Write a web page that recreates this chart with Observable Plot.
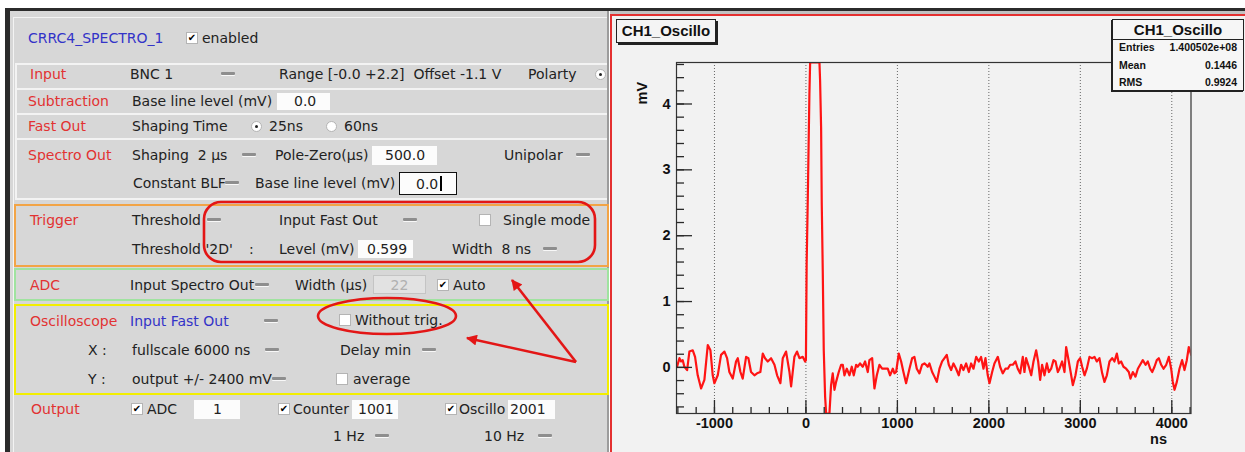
<!DOCTYPE html>
<html><head><meta charset="utf-8">
<script src="https://cdn.jsdelivr.net/npm/d3@7"></script>
<script src="https://cdn.jsdelivr.net/npm/@observablehq/plot@0.6"></script>
<style>
html,body{margin:0;padding:0;}
body{width:1245px;height:452px;overflow:hidden;position:relative;background:#fff;font-family:"DejaVu Sans",sans-serif;}
.a{position:absolute;}
.t{position:absolute;font-size:14px;line-height:16px;white-space:pre;color:#222;}
.r{color:#e23232;}
.b{color:#3333c8;}
.dd{position:absolute;width:14px;height:3px;background:#8e8e8e;border-radius:1px;box-shadow:0 1px 0 #f8f8f8;}
.cb{position:absolute;width:10px;height:10px;background:#fff;border:1px solid #b4b4b4;font-size:10px;line-height:10px;text-align:center;color:#000;font-weight:bold;overflow:hidden;}
.rb{position:absolute;width:9px;height:9px;border-radius:50%;background:#fff;border:1px solid #b4b4b4;}
.rb i{position:absolute;left:3px;top:3px;width:3px;height:3px;border-radius:50%;background:#222;}
.in{position:absolute;background:#fcfcfc;font-size:14px;color:#222;box-sizing:border-box;white-space:pre;overflow:hidden;}
.ln{position:absolute;background:#f3f3f3;}
.box{position:absolute;box-sizing:border-box;}
.rt{font-family:"Liberation Sans",Arial,sans-serif;font-weight:bold;color:#111;}
</style>
</head><body>
<div class="a" style="left:5px;top:8px;width:1240px;height:3px;background:#2b2b2b"></div>
<div class="a" style="left:5px;top:8px;width:5px;height:444px;background:#2b2b2b"></div>
<div class="a" style="left:610px;top:11px;width:635px;height:4px;background:#c2c2c2"></div>
<div id="gui" class="a" style="left:10px;top:11px;width:598px;height:441px;background:#d7d7d7"></div>
<div class="a" style="left:607px;top:11px;width:2px;height:441px;background:#9c9c9c"></div>
<div id="canvas" class="a" style="left:610px;top:14px;width:635px;height:438px;border-left:2px solid #e43030;border-top:2px solid #e43030;background:#f2f2f2"></div>
<div id="ttl" class="a rt" style="left:616px;top:19px;width:98px;height:22px;line-height:22px;text-align:center;font-size:15px;background:#f4f4f4;border:1px solid #222;box-shadow:2px 2px 0 #222;z-index:4"></div>
<div id="stats" class="a rt" style="left:1112px;top:19px;width:130px;height:70px;background:#f6f6f6;border:1px solid #222;box-shadow:-1px 1px 0 #222;z-index:4"></div>
<svg id="ann" width="612" height="452" style="position:absolute;left:0;top:0;z-index:5">
<defs><marker id="ah" viewBox="0 0 10 10" refX="9" refY="5" markerWidth="5" markerHeight="4.2" orient="auto"><path d="M0,0L10,5L0,10z" fill="#e31616"/></marker></defs>
<rect x="204" y="202" width="391" height="60" rx="17" fill="none" stroke="#e31616" stroke-width="2.6"/>
<ellipse cx="387" cy="316" rx="69" ry="18" fill="none" stroke="#e31616" stroke-width="2.6"/>
<line x1="576" y1="362" x2="512" y2="280" stroke="#e31616" stroke-width="2.6" marker-end="url(#ah)"/>
<line x1="576" y1="362" x2="467" y2="338" stroke="#e31616" stroke-width="2.6" marker-end="url(#ah)"/>
</svg>
<script>
// ---------- chart data ----------
const histTitle = "CH1_Oscillo";
const statsNames = ["Entries", "Mean", "RMS"];
const statsValues = ["1.400502e+08", "0.1446", "0.9924"];
const xLabel = "ns";
const yLabel = "mV";
const xMajorTicks = [-1000, 0, 1000, 2000, 3000, 4000];
const yMajorTicks = [0, 1, 2, 3, 4];
const xDomain = [-1415, 4210];
const yDomain = [-0.70, 4.63];

const timeNs = [
  -1409, -1383, -1365, -1347, -1329, -1299, -1274, -1237, -1212, -1183, -1146, -1110, -1073, -1044, -1019, -1001,
  -964, -928, -891, -862, -837, -800, -764, -745, -716, -691, -654, -629, -600, -563, -534, -498, -472, -447,
  -417, -381, -344, -315, -279, -253, -217, -180, -162, -126, -97, -71, -35, -9,
  0, 8, 20, 38, 46, 148, 155, 166, 173, 184, 195, 210, 221, 257,
  275, 293, 312, 330, 359, 385, 403, 421, 447, 476, 501, 523, 549, 567, 592, 621, 647, 676, 694, 724, 749, 775,
  804, 833, 869, 895, 920, 950, 968, 986, 1015, 1041, 1066, 1095, 1132, 1161, 1186, 1212, 1241, 1270, 1296, 1314, 1332,
  1350, 1380, 1405, 1431, 1460, 1489, 1515, 1540, 1562, 1587, 1613, 1642, 1671, 1697, 1722, 1752, 1781, 1806, 1832,
  1861, 1890, 1915, 1941, 1963, 1988, 2007, 2036, 2061, 2098, 2123, 2152, 2181, 2207, 2233, 2262, 2291, 2316, 2342,
  2371, 2389, 2407, 2437, 2463, 2488, 2517, 2539, 2561, 2582, 2608, 2634, 2656, 2681, 2707, 2729, 2754,
  2772, 2801, 2827, 2845, 2874, 2900, 2918, 2947, 2973, 2998, 3020, 3046, 3071, 3100, 3129, 3155, 3180, 3209, 3239,
  3264, 3290, 3319, 3348, 3373, 3399, 3421, 3446, 3472, 3501, 3530, 3548, 3574, 3603, 3629, 3654, 3683, 3713, 3738,
  3764, 3786, 3811, 3836, 3858, 3884, 3910, 3939, 3968, 3993, 4011, 4030, 4055, 4084, 4113, 4139, 4164, 4186, 4212
];
const voltageMv = [
  0.01, 0.14, 0.09, 0.11, 0.01, -0.04, 0.24, 0.26, 0.16, -0.12, -0.32, -0.19, 0.34, 0.26, -0.12, -0.24,
  -0.12, 0.19, 0.24, 0.14, -0.07, -0.17, 0.09, 0.14, -0.07, -0.17, 0.16, 0.14, -0.07, -0.12, -0.09, -0.07, 0.21, 0.14,
  0.09, 0.14, 0.04, -0.12, -0.24, 0.14, 0.24, -0.07, -0.29, 0.16, 0.24, 0.14, 0.16, 0.09,
  0.11, 1.57, 2.53, 4.15, 4.63, 4.63, 4.35, 3.64, 2.49, 1.47, 0.26, -0.45, -0.70, -0.70,
  -0.27, -0.09, -0.34, -0.22, -0.07, 0.04, 0.04, -0.12, -0.02, -0.12, 0.01, -0.12, 0.04, 0.01, 0.06, 0.01, 0.09, -0.07, 0.11, 0.14, -0.32, -0.12,
  0.04, -0.02, -0.02, -0.02, -0.12, -0.02, -0.09, -0.07, 0.21, 0.09, -0.07, -0.24, -0.02, 0.14, 0.16, -0.02, -0.09, 0.04, 0.06, 0.04, 0.01,
  0.06, -0.07, -0.14, -0.22, -0.02, 0.09, 0.14, 0.19, 0.04, -0.04, 0.06, -0.02, -0.12, 0.04, -0.04, 0.06, -0.07, 0.06, -0.02,
  0.16, 0.09, 0.16, -0.02, 0.14, -0.12, -0.24, -0.07, 0.06, 0.16, 0.01, -0.09, -0.02, -0.02, 0.04, 0.04, 0.09, -0.02, -0.09,
  0.16, -0.07, 0.14, 0.01, -0.12, 0.09, 0.26, 0.09, -0.19, 0.04, -0.12, 0.06, -0.07, -0.02, 0.11, 0.09, -0.07,
  -0.02, 0.09, -0.07, 0.31, 0.09, -0.12, -0.27, -0.12, 0.09, 0.14, 0.01, -0.12, -0.02, 0.16, 0.14, 0.16, 0.09, 0.14, -0.09,
  -0.22, -0.12, 0.09, 0.14, 0.09, 0.21, 0.06, 0.09, 0.01, -0.02, -0.07, -0.17, -0.07, -0.14, -0.02, 0.04, 0.11, 0.04, 0.09,
  -0.02, -0.07, 0.01, 0.11, 0.14, 0.04, -0.02, 0.04, 0.16, -0.02, -0.22, -0.34, -0.22, -0.02, 0.11, -0.04, 0.11, 0.31, 0.19
];
const xMinorTicks = d3.range(-1400, 4201, 200);
const yMinorTicks = d3.range(-6, 47, 2).map(d => d / 10);

// ---------- the oscilloscope histogram ----------
const W = 632, H = 436, ML = 64, MT = 46, MR = 53.5, MB = 39;
const frameW = W - ML - MR, frameH = H - MT - MB;
const samples = timeNs.map((t, i) => ({t, v: voltageMv[i]}));
const bold = {fontSize: 14.5, fontWeight: "bold"};
const tk = {stroke: "#2a2a2a", strokeWidth: 1.3};
const chart = Plot.plot({
  width: W, height: H,
  marginLeft: ML, marginTop: MT, marginRight: MR, marginBottom: MB,
  x: {domain: xDomain},
  y: {domain: yDomain},
  style: {background: "transparent", fontFamily: "'Liberation Sans', Arial, sans-serif", color: "#111", overflow: "visible"},
  marks: [
    Plot.ruleX(xMajorTicks, {stroke: "#666", strokeWidth: 1, strokeDasharray: "1,2"}),
    Plot.line(samples, {x: "t", y: "v", stroke: "#ff1414", strokeWidth: 2.2, clip: true}),
    Plot.frame({stroke: "#333", strokeWidth: 1.2}),
    // ROOT-style ticks pointing into the frame
    Plot.tickX(xMinorTicks, {x: d => d, insetTop: frameH - 6, ...tk}),
    Plot.tickX(xMajorTicks, {x: d => d, insetTop: frameH - 13, ...tk}),
    Plot.tickY(yMinorTicks, {y: d => d, insetRight: frameW - 8, ...tk}),
    Plot.tickY(yMajorTicks, {y: d => d, insetRight: frameW - 16, ...tk}),
    Plot.axisX(xMajorTicks, {tickSize: 0, tickPadding: 4, tickFormat: d => String(d), label: null, ...bold}),
    Plot.axisY(yMajorTicks, {tickSize: 0, tickPadding: 6, tickFormat: d => String(d), label: null, ...bold}),
    Plot.text([yLabel], {text: d => d, frameAnchor: "top-left", rotate: -90, dx: -40, dy: 42, ...bold}),
    Plot.text([xLabel], {text: d => d, frameAnchor: "bottom-right", dx: -24, dy: 30, ...bold})
  ]
});
document.getElementById("canvas").appendChild(chart);

document.getElementById("ttl").textContent = histTitle;
const st = document.getElementById("stats");
st.innerHTML = `<div style="height:19px;line-height:19px;text-align:center;font-size:15px;border-bottom:1px solid #222">${histTitle}</div>`;
statsNames.forEach((n, i) => {
  const row = document.createElement("div");
  row.style.cssText = "position:absolute;left:6px;right:6px;top:" + (19 + i * 17.5) + "px;height:16px;line-height:16px;font-size:10.5px;display:flex;justify-content:space-between";
  row.innerHTML = `<span>${n}</span><span>${statsValues[i]}</span>`;
  st.appendChild(row);
});

// ---------- the control panel (GUI screenshot part) ----------
const body = document.body;
function add(cls, css, html) {
  const d = document.createElement("div");
  d.className = cls; d.style.cssText = css;
  if (html !== undefined) d.innerHTML = html;
  body.appendChild(d); return d;
}
function T(s, x, y, cls, clipW) {
  const d = add("t" + (cls ? " " + cls : ""), `left:${x}px;top:${y - 8}px` + (clipW ? `;width:${clipW}px;overflow:hidden` : ""));
  d.textContent = s; return d;
}
function DD(x, y) { add("dd", `left:${x}px;top:${y - 2}px`); }
function CB(x, y, on) { add("cb", `left:${x}px;top:${y - 6}px`, on ? "✔" : ""); }
function RB(x, y, on) { add("rb", `left:${x}px;top:${y - 5}px`, on ? "<i></i>" : ""); }
function IN(x1, y1, x2, y2, s, pad, extra) {
  const d = add("in", `left:${x1}px;top:${y1}px;width:${x2 - x1}px;height:${y2 - y1}px;line-height:${y2 - y1}px;padding-left:${pad}px;${extra || ""}`);
  d.textContent = s; return d;
}
function LN(x, y, w, h, c) { add("ln", `left:${x}px;top:${y}px;width:${w}px;height:${h}px;${c ? "background:" + c : ""}`); }
function BOX(x1, y1, x2, y2, c) { add("box", `left:${x1}px;top:${y1}px;width:${x2 - x1}px;height:${y2 - y1}px;border:2px solid ${c}`); }

LN(13, 17, 594, 1); LN(13, 17, 1, 435);
[64, 89, 114, 139, 199].forEach(y => LN(15, y - 1, 592, 2));
LN(15, 63, 2, 137);
BOX(14, 204, 609, 267, "#f2a446");
BOX(14, 268, 609, 301, "#9fe39f");
BOX(14, 304, 609, 395, "#f2ee00");

T("CRRC4_SPECTRO_1", 28, 38, "b"); CB(186, 38, true); T("enabled", 202, 38);
T("Input", 30, 74, "r"); T("BNC 1", 130, 74); DD(221, 74); T("Range [-0.0 +2.2]  Offset -1.1 V", 279, 74);
T("Polarty", 528, 74); RB(595, 74, true);
T("Subtraction", 28, 101, "r"); T("Base line level (mV)", 132, 101); IN(277, 93, 330, 110, "0.0", 17);
T("Fast Out", 28, 126, "r"); T("Shaping Time", 132, 126); RB(251, 126, true); T("25ns", 269, 126); RB(326, 126, false); T("60ns", 344, 126);
T("Spectro Out", 28, 155, "r"); T("Shaping  2 µs", 132, 155); DD(242, 155); T("Pole-Zero(µs)", 275, 155);
IN(372, 146, 437, 165, "500.0", 13); T("Unipolar", 504, 155); DD(576, 155);
T("Constant BLF", 133, 183, "", 92); DD(225, 183); T("Base line level (mV)", 255, 183);
IN(399, 172, 457, 195, "0.0", 16, "border:1.5px solid #111;");
LN(440, 176, 1.5, 15, "#000");
T("Trigger", 30, 220, "r"); T("Threshold", 132, 220); DD(207, 220); T("Input Fast Out", 279, 220); DD(403, 220);
CB(479, 220, false); T("Single mode", 503, 220);
T("Threshold '2D'", 132, 249); T(":", 249, 249); T("Level (mV)", 279, 249); IN(358, 240, 413, 258, "0.599", 9);
T("Width  8 ns", 452, 249); DD(543, 249);
T("ADC", 30, 285, "r"); T("Input Spectro Out", 130, 285); DD(255, 285); T("Width (µs)", 295, 285);
IN(373, 275, 426, 294, "22", 0, "text-align:center;color:#b0b0b0;background:#e2e2e2;border:1px solid #c4c4c4;");
CB(437, 285, true); T("Auto", 453, 285);
T("Oscilloscope", 30, 321, "r"); T("Input Fast Out", 130, 321, "b"); DD(264, 321); CB(339, 320, false); T("Without trig.", 355, 320);
T("X :", 88, 350); T("fullscale 6000 ns", 132, 350); DD(265, 350); T("Delay min", 340, 350); DD(422, 350);
T("Y :", 88, 379); T("output +/- 2400 mV", 132, 379, "", 140); DD(272, 379); CB(336, 379, false); T("average", 353, 379);
T("Output", 31, 409, "r"); CB(131, 409, true); T("ADC", 147, 409); IN(194, 400, 240, 419, "1", 19);
CB(278, 409, true); T("Counter", 293, 409); IN(352, 400, 398, 419, "1001", 6);
CB(445, 409, true); T("Oscillo", 459, 409); IN(508, 400, 555, 419, "2001", 2);
T("1 Hz", 333, 436); DD(375, 436); T("10 Hz", 484, 436); DD(538, 436);
</script>
</body></html>
